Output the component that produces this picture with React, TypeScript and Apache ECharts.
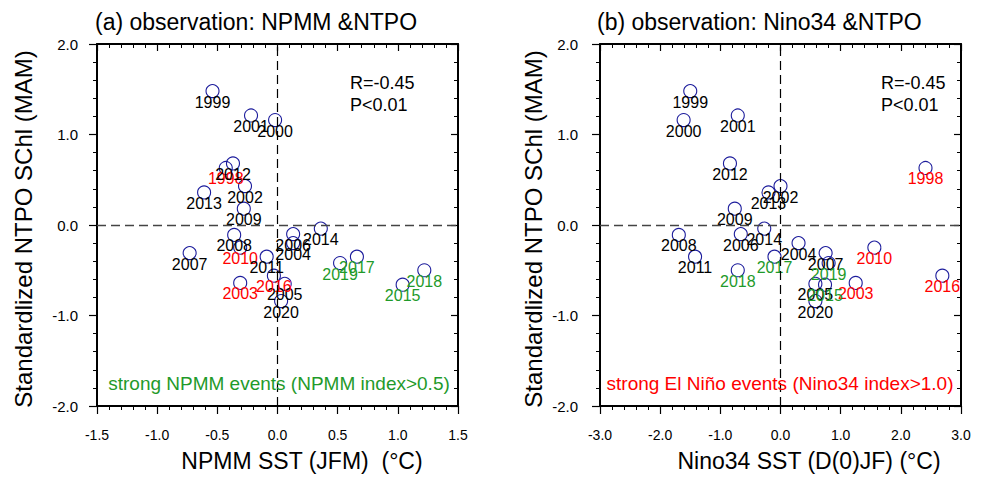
import React, { useEffect, useRef } from "react";
import * as echarts from "echarts";

const years = ["1998","1999","2000","2001","2002","2003","2004","2005","2006","2007","2008","2009","2010","2011","2012","2013","2014","2015","2016","2017","2018","2019","2020"];
const npmmSST = [-0.43,-0.54,-0.02,-0.22,-0.27,-0.31,0.13,0.06,0.13,-0.73,-0.36,-0.28,-0.31,-0.09,-0.37,-0.61,0.36,1.04,-0.03,0.66,1.22,0.52,0.03];
const nino34SST = [2.41,-1.5,-1.61,-0.71,0.0,1.25,0.3,0.58,-0.66,0.75,-1.69,-0.76,1.56,-1.42,-0.84,-0.2,-0.27,0.74,2.69,-0.1,-0.71,0.8,0.58];
const ntpoSChl = [0.63,1.48,1.16,1.21,0.43,-0.64,-0.2,-0.65,-0.1,-0.31,-0.11,0.18,-0.25,-0.35,0.68,0.36,-0.04,-0.66,-0.56,-0.35,-0.5,-0.42,-0.84];
const elNinoYears = ["1998","2003","2010","2016"];
const npmmYears = ["2015","2017","2018","2019"];

const FONT = "'Liberation Sans', Arial, Helvetica, sans-serif";
const RED = "#ff0000";
const GREEN = "#1f9a2a";
const NAVY = "#1c1c9c";

function labelColor(y: string) {
  if (elNinoYears.includes(y)) return RED;
  if (npmmYears.includes(y)) return GREEN;
  return "#000";
}

function buildData(xs: number[]) {
  return years.map((y, i) => ({
    name: y,
    value: [xs[i], ntpoSChl[i]],
    label: { color: labelColor(y) },
  }));
}

function xAxes(gridIndex: number, min: number, max: number, interval: number) {
  const common = {
    gridIndex, type: "value" as const, min, max, interval,
    splitLine: { show: false },
    axisLine: { show: true, onZero: false, lineStyle: { color: "#000", width: 2 } },
    minorTick: { show: true, splitNumber: 5, length: 4, lineStyle: { color: "#000", width: 1 } },
    minorSplitLine: { show: false },
  };
  return [
    {
      ...common, position: "bottom" as const,
      axisTick: { show: true, inside: false, length: 8, lineStyle: { color: "#000", width: 1.2 } },
      axisLabel: { show: true, margin: 22, fontSize: 14, color: "#000", fontFamily: FONT,
        formatter: (v: number) => v.toFixed(1) },
    },
    {
      ...common, position: "top" as const,
      axisTick: { show: true, inside: true, length: 7, lineStyle: { color: "#000", width: 1.2 } },
      axisLabel: { show: false },
    },
  ];
}

function yAxes(gridIndex: number, margin: number) {
  const common = {
    gridIndex, type: "value" as const, min: -2, max: 2, interval: 1,
    splitLine: { show: false },
    axisLine: { show: true, onZero: false, lineStyle: { color: "#000", width: 2 } },
    minorTick: { show: true, splitNumber: 5, length: 4, lineStyle: { color: "#000", width: 1 } },
  };
  return [
    {
      ...common, position: "left" as const,
      axisTick: { show: true, inside: false, length: 8, lineStyle: { color: "#000", width: 1.2 } },
      axisLabel: { show: true, margin, fontSize: 15, color: "#000", fontFamily: FONT,
        formatter: (v: number) => v.toFixed(1) },
    },
    {
      ...common, position: "right" as const,
      axisTick: { show: true, inside: true, length: 7, lineStyle: { color: "#000", width: 1.2 } },
      axisLabel: { show: false },
    },
  ];
}

function scatter(xAxisIndex: number, yAxisIndex: number, xs: number[]) {
  return {
    type: "scatter",
    xAxisIndex, yAxisIndex,
    symbol: "circle",
    symbolSize: 13,
    itemStyle: { color: "rgba(0,0,0,0)", borderColor: NAVY, borderWidth: 1.1, opacity: 1 },
    label: {
      show: true, position: "inside", offset: [0, 11],
      formatter: (p: any) => p.name, fontSize: 16, fontFamily: FONT,
      textBorderWidth: 0, opacity: 1,
    },
    data: buildData(xs),
    markLine: {
      silent: true, symbol: "none", label: { show: false },
      data: [
        { xAxis: 0, lineStyle: { color: "#000", type: [9, 5], width: 1.2 } },
        { yAxis: 0, lineStyle: { color: "#444", type: [9, 5], width: 1.3 } },
      ],
    },
    z: 3,
  };
}

function text(x: number, y: number, t: string, size: number, fill = "#000", align = "left", rotation = 0) {
  return {
    type: "text", x, y, rotation,
    style: { text: t, fontSize: size, fontFamily: FONT, fill, textAlign: align, textVerticalAlign: "middle" },
    silent: true, z: 10,
  };
}

export default function App() {
  const ref = useRef<HTMLDivElement>(null);
  useEffect(() => {
    if (!ref.current) return;
    const chart = echarts.init(ref.current, null, { renderer: "svg" });
    chart.setOption({
      animation: false,
      backgroundColor: "#fff",
      textStyle: { fontFamily: FONT },
      grid: [
        { left: 97, right: 529, top: 44, bottom: 75 },
        { left: 600, right: 26, top: 44, bottom: 75 },
      ],
      xAxis: [...xAxes(0, -1.5, 1.5, 0.5), ...xAxes(1, -3, 3, 1)],
      yAxis: [...yAxes(0, 19), ...yAxes(1, 22)],
      series: [scatter(0, 0, npmmSST), scatter(2, 2, nino34SST)],
      graphic: [
        text(95, 22, "(a) observation: NPMM &NTPO", 23),
        text(597, 22, "(b) observation: Nino34 &NTPO", 23),
        text(350, 83, "R=-0.45", 18),
        text(350, 105, "P<0.01", 18),
        text(881, 83, "R=-0.45", 18),
        text(881, 105, "P<0.01", 18),
        text(279, 383, "strong NPMM events (NPMM index>0.5)", 19, GREEN, "center"),
        text(780, 383, "strong El Niño events (Nino34 index>1.0)", 19, RED, "center"),
        text(302, 461, "NPMM SST (JFM)  (°C)", 23, "#000", "center"),
        text(809, 461, "Nino34 SST (D(0)JF) (°C)", 23, "#000", "center"),
        text(23, 229, "Standardlized NTPO SChl (MAM)", 24, "#000", "center", Math.PI / 2),
        text(533, 229, "Standardlized NTPO SChl (MAM)", 24, "#000", "center", Math.PI / 2),
      ],
    });
    return () => chart.dispose();
  }, []);
  return <div ref={ref} style={{ position: "fixed", left: 0, top: 0, width: 987, height: 481 }} />;
}
